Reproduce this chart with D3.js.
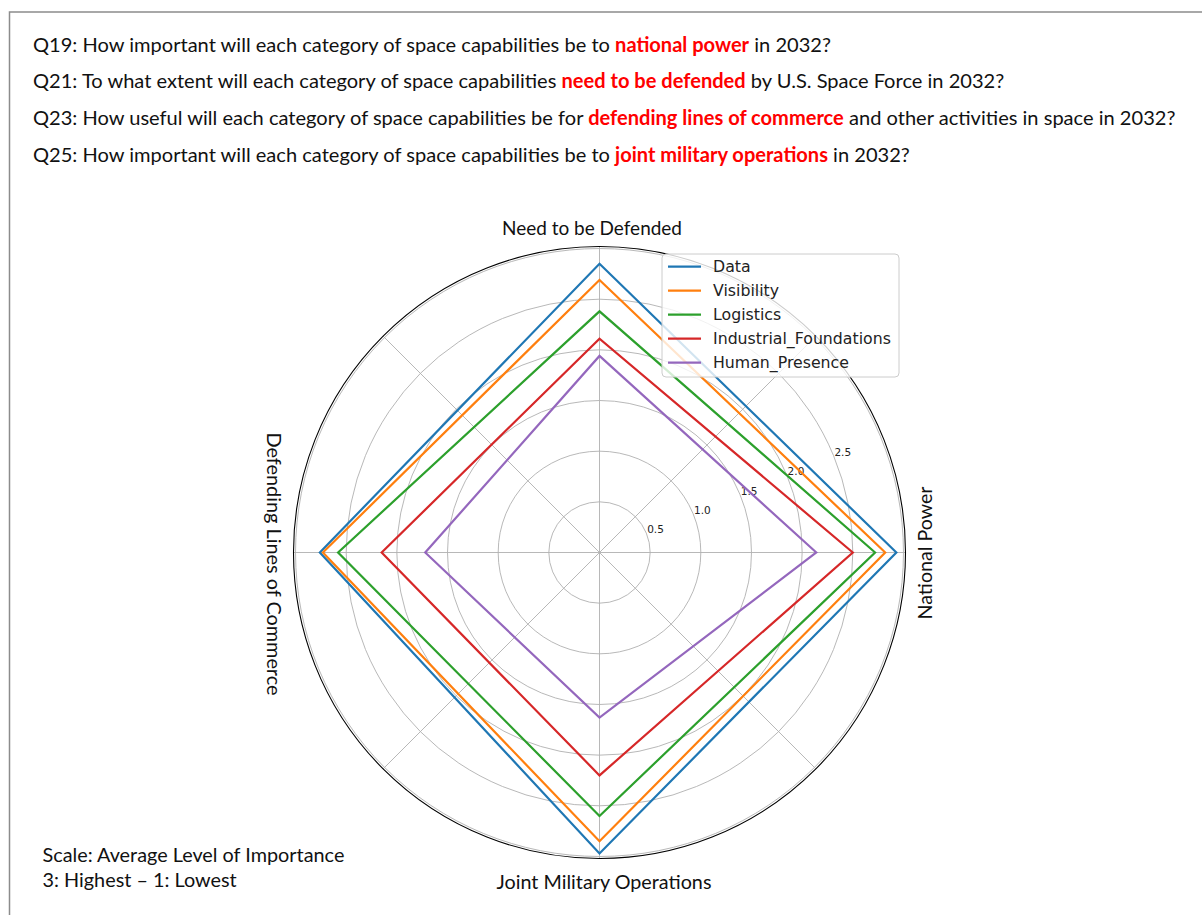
<!DOCTYPE html>
<html>
<head>
<meta charset="utf-8">
<script src="https://cdn.jsdelivr.net/npm/d3@7"></script>
<style>
  body { margin: 0; background: #fff; }
  svg { display: block; }
</style>
</head>
<body>
<svg id="chart" width="1202" height="915"></svg>
<script>
// categories around the circle (matplotlib order: 0, 90, 180, 270 degrees)
const categories = ["National Power", "Need to be Defended", "Defending Lines of Commerce", "Joint Military Operations"];
const seriesNames = ["Data", "Visibility", "Logistics", "Industrial_Foundations", "Human_Presence"];

// values per category, same order as categories
const dataVals = [2.93, 2.85, 2.76, 2.97];
const visibilityVals = [2.82, 2.69, 2.73, 2.85];
const logisticsVals = [2.72, 2.38, 2.58, 2.60];
const industrialVals = [2.50, 2.11, 2.15, 2.20];
const humanVals = [2.14, 1.94, 1.72, 1.63];

const radialTicks = [0.5, 1.0, 1.5, 2.0, 2.5];
const rMax = 3.02;

const questions = [
  [["Q19: How important will each category of space capabilities be to ", false], ["national power", true], [" in 2032?", false]],
  [["Q21: To what extent will each category of space capabilities ", false], ["need to be defended", true], [" by U.S. Space Force in 2032?", false]],
  [["Q23: How useful will each category of space capabilities be for ", false], ["defending lines of commerce", true], [" and other activities in space in 2032?", false]],
  [["Q25: How important will each category of space capabilities be to ", false], ["joint military operations", true], [" in 2032?", false]]
];
const scaleNote = ["Scale: Average Level of Importance", "3: Highest \u2013 1: Lowest"];

const series = [dataVals, visibilityVals, logisticsVals, industrialVals, humanVals];
const colors = ["#1f77b4", "#ff7f0e", "#2ca02c", "#d62728", "#9467bd"];

const svg = d3.select("#chart");
const slideFont = "Lato, 'Open Sans', sans-serif";
const mplFont = "'DejaVu Sans', sans-serif";

// scale font size so a text element gets the wanted width
function fitWidth(sel, target) {
  const base = parseFloat(sel.attr("font-size"));
  const w = sel.node().getComputedTextLength();
  const size = base * target / w;
  sel.attr("font-size", size);
  return size;
}

// slide frame (only top and left edges show)
svg.append("path")
  .attr("d", "M9.5,915 V12 H1202")
  .attr("fill", "none")
  .attr("stroke", "#8c8c8c")
  .attr("stroke-width", 1.5);

// questions
const qLines = svg.append("g").selectAll("text")
  .data(questions)
  .join("text")
  .attr("x", 33)
  .attr("y", (d, i) => 51.5 + i * 36.7)
  .attr("font-family", slideFont)
  .attr("font-size", 20)
  .attr("fill", "#111");
qLines.selectAll("tspan")
  .data(d => d)
  .join("tspan")
  .attr("font-weight", d => d[1] ? "bold" : null)
  .attr("fill", d => d[1] ? "#ff0000" : null)
  .text(d => d[0]);
const qSize = fitWidth(d3.select(qLines.nodes()[2]), 1143);
qLines.attr("font-size", qSize);

// polar chart
const cx = 599.5, cy = 552.5;
const r = d3.scaleLinear().domain([0, rMax]).range([0, 306]);
const angle = d3.scaleLinear().domain([0, categories.length]).range([Math.PI / 2, Math.PI / 2 - 2 * Math.PI]);
const g = svg.append("g").attr("transform", `translate(${cx},${cy})`);

// circular grid
g.append("g").selectAll("circle")
  .data(radialTicks.concat([3.0]))
  .join("circle")
  .attr("r", d => r(d))
  .attr("fill", "none")
  .attr("stroke", "#b0b0b0")
  .attr("stroke-width", 0.9);

// spokes every 45 degrees
g.append("g").selectAll("line")
  .data(d3.range(0, 360, 45))
  .join("line")
  .attr("x1", 0).attr("y1", 0)
  .attr("x2", d => r(rMax) * Math.cos(d * Math.PI / 180))
  .attr("y2", d => -r(rMax) * Math.sin(d * Math.PI / 180))
  .attr("stroke", "#b0b0b0")
  .attr("stroke-width", 0.9);

// radial tick labels at 22.5 degrees
const labAng = 22.5 * Math.PI / 180;
g.append("g").selectAll("text")
  .data(radialTicks)
  .join("text")
  .attr("x", d => (r(d) + 10) * Math.cos(labAng))
  .attr("y", d => -(r(d) + 10) * Math.sin(labAng))
  .attr("text-anchor", "middle")
  .attr("dominant-baseline", "central")
  .attr("font-family", mplFont)
  .attr("font-size", 10.5)
  .attr("fill", "#222")
  .text(d => d.toFixed(1));

// series polygons
const radar = d3.lineRadial()
  .angle((d, i) => angle(i))
  .radius(d => r(d))
  .curve(d3.curveLinearClosed);
g.append("g").selectAll("path")
  .data(series)
  .join("path")
  .attr("d", radar)
  .attr("fill", "none")
  .attr("stroke", (d, i) => colors[i])
  .attr("stroke-width", 2.2)
  .attr("stroke-linejoin", "miter");

// outer spine
g.append("circle")
  .attr("r", r(rMax))
  .attr("fill", "none")
  .attr("stroke", "#000")
  .attr("stroke-width", 1.1);

// category labels
const labFill = "#111";
const topLabel = svg.append("text")
  .attr("x", 592).attr("y", 235)
  .attr("text-anchor", "middle")
  .attr("font-family", slideFont).attr("font-size", 19).attr("fill", labFill)
  .text(categories[1]);
fitWidth(topLabel, 180);

const bottomLabel = svg.append("text")
  .attr("x", 604).attr("y", 889)
  .attr("text-anchor", "middle")
  .attr("font-family", slideFont).attr("font-size", 19).attr("fill", labFill)
  .text(categories[3]);
fitWidth(bottomLabel, 215);

const rightLabel = svg.append("text")
  .attr("transform", "translate(932,553) rotate(-90)")
  .attr("text-anchor", "middle")
  .attr("font-family", slideFont).attr("font-size", 19).attr("fill", labFill)
  .text(categories[0]);
fitWidth(rightLabel, 133);

const leftLabel = svg.append("text")
  .attr("transform", "translate(267,564) rotate(90)")
  .attr("text-anchor", "middle")
  .attr("font-family", slideFont).attr("font-size", 19).attr("fill", labFill)
  .text(categories[2]);
fitWidth(leftLabel, 263);

// legend
const leg = svg.append("g").attr("transform", "translate(662,254)");
leg.append("rect")
  .attr("width", 237).attr("height", 123)
  .attr("rx", 4)
  .attr("fill", "#fff").attr("fill-opacity", 0.8)
  .attr("stroke", "#cccccc").attr("stroke-width", 1);
const items = leg.selectAll("g.item")
  .data(seriesNames)
  .join("g")
  .attr("class", "item")
  .attr("transform", (d, i) => `translate(0,${12.7 + i * 24})`);
items.append("line")
  .attr("x1", 6).attr("x2", 39)
  .attr("stroke", (d, i) => colors[i])
  .attr("stroke-width", 2.2);
const legTexts = items.append("text")
  .attr("x", 51)
  .attr("dominant-baseline", "central")
  .attr("font-family", mplFont)
  .attr("font-size", 15)
  .attr("fill", "#222")
  .text(d => d);
const legSize = fitWidth(d3.select(legTexts.nodes()[3]), 178);
legTexts.attr("font-size", legSize);

// scale note
const notes = svg.append("g").selectAll("text")
  .data(scaleNote)
  .join("text")
  .attr("x", 42.5)
  .attr("y", (d, i) => 861.5 + i * 25)
  .attr("font-family", slideFont)
  .attr("font-size", 19)
  .attr("fill", "#111")
  .text(d => d);
const nSize = fitWidth(d3.select(notes.nodes()[0]), 302);
notes.attr("font-size", nSize);
</script>
</body>
</html>
